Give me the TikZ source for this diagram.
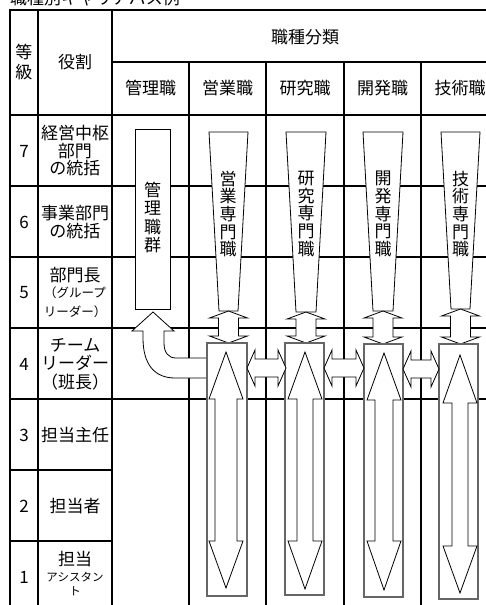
\documentclass[tikz,border=0pt]{standalone}
\usepackage{fontspec}
\setmainfont{Noto Sans CJK JP}
\newcommand\fs[2]{\fontsize{#1}{#2}\selectfont}
% vertical short double arrow: cx, top tip, bottom tip
\newcommand\vdarr[3]{\draw[shp] (#1,#2) -- ({#1+19},{#2+7}) -- ({#1+10},{#2+7}) -- ({#1+10},{#3-7}) -- ({#1+19},{#3-7}) -- (#1,#3) -- ({#1-19},{#3-7}) -- ({#1-10},{#3-7}) -- ({#1-10},{#2+7}) -- ({#1-19},{#2+7}) -- cycle;}
% big double arrow: cx, top tip, top base, bottom base, bottom tip, head half, shaft half
\newcommand\bigarr[7]{\draw[shp] (#1,#2) -- ({#1+#6},#3) -- ({#1+#7},#3) -- ({#1+#7},#4) -- ({#1+#6},#4) -- (#1,#5) -- ({#1-#6},#4) -- ({#1-#7},#4) -- ({#1-#7},#3) -- ({#1-#6},#3) -- cycle;}
% horizontal double arrow: left tip, right tip, y centre
\newcommand\hdarr[3]{\draw[shp] (#1,#3) -- ({#1+8},{#3-18}) -- ({#1+8},{#3-9}) -- ({#2-8},{#3-9}) -- ({#2-8},{#3-18}) -- (#2,#3) -- ({#2-8},{#3+18}) -- ({#2-8},{#3+9}) -- ({#1+8},{#3+9}) -- ({#1+8},{#3+18}) -- cycle;}
% trapezoid: left top, right top, top y, bottom y
\newcommand\trap[4]{\draw[shp] (#1,#3) -- (#2,#3) -- ({#2-10},#4) -- ({#1+10},#4) -- cycle;}
\begin{document}
\begin{tikzpicture}[x=1pt,y=-1pt,
  tline/.style={line width=2pt},
  shp/.style={draw=black,fill=white,line width=0.8pt,line join=miter},
  gbox/.style={draw=black!60,fill=white,line width=1.5pt},
  lbl/.style={font=\fs{17}{17.5},align=center,inner sep=0pt},
  vt/.style={font=\fs{17}{17.6},align=center,inner sep=0pt}]
\useasboundingbox (0,0) rectangle (486,605);
\clip (0,0) rectangle (486,605);
% title
\node[anchor=base west,inner sep=0pt,font=\fs{17}{18}] (title) at (10,5) {職種別キャリアパス例};
% table lines
\foreach \y in {10,115,186,257,328,399} \draw[tline] (9,\y) -- (500,\y);
\draw[tline] (112,62) -- (500,62);
\foreach \y in {470,541} \draw[tline] (9,\y) -- (112,\y);
\foreach \x in {10,38,112} \draw[tline] (\x,9) -- (\x,610);
\foreach \x in {189,266,344,421} \draw[tline] (\x,62) -- (\x,610);
% header texts
\node[lbl,font=\fs{17}{20}] (tou) at (24,62) {等\\級};
\node[lbl] (yaku) at (75,62) {役割};
\node[lbl] (bunrui) at (305,37) {職種分類};
\node[lbl] (c1) at (150.5,88) {管理職};
\node[lbl] (c2) at (227.5,88) {営業職};
\node[lbl] (c3) at (305,88) {研究職};
\node[lbl] (c4) at (382.5,88) {開発職};
\node[lbl] (c5) at (460,88) {技術職};
% grade numbers
\node[lbl] (g7) at (24,151) {7};
\node[lbl] (g6) at (24,222) {6};
\node[lbl] (g5) at (24,293) {5};
\node[lbl] (g4) at (24,364) {4};
\node[lbl] (g3) at (24,435) {3};
\node[lbl] (g2) at (24,506) {2};
\node[lbl] (g1) at (24,577) {1};
% role texts
\node[lbl] (r7) at (75,151) {経営中枢\\部門\\の統括};
\node[lbl] (r6) at (75,222) {事業部門\\の統括};
\node[lbl] (r5a) at (75,275) {部門長};
\node[lbl,font=\fs{12.5}{14}] (r5b) at (75,293) {（グループ};
\node[lbl,font=\fs{12.5}{14}] (r5c) at (75,312) {リーダー）};
\node[lbl,font=\fs{17}{18.5}] (r4) at (75,364) {チーム\\リーダー\\（班長）};
\node[lbl] (r3) at (75,435) {担当主任};
\node[lbl] (r2) at (75,506) {担当者};
\node[lbl] (r1a) at (75,559) {担当};
\node[lbl,font=\fs{11.5}{13}] (r1b) at (75,577) {アシスタン};
\node[lbl,font=\fs{11.5}{13}] (r1c) at (75,591) {ト};
% management group
\draw[shp] (135,129) rectangle (170,309);
\node[vt,font=\fs{17}{18.3}] (kanri) at (152.5,217.5) {管\\理\\職\\群};
% bent arrow to management
\draw[shp] (153,312) -- (174,331) -- (164,331) -- (164,343) .. controls (164,352) and (168,358) .. (176,358) -- (207,358) -- (207,378) -- (175,378) .. controls (155,378) and (143,365) .. (143,338) -- (143,331) -- (132,331) -- cycle;
% specialist trapezoids
\trap{209}{248}{132}{311}
\trap{286}{326}{132}{312}
\trap{363}{403}{132}{311}
\trap{441}{480}{132}{309}
\node[vt] (eigyo) at (228,214) {営\\業\\専\\門\\職};
\node[vt] (kenkyu) at (306,214) {研\\究\\専\\門\\職};
\node[vt] (kaihatsu) at (383,214) {開\\発\\専\\門\\職};
\node[vt] (gijutsu) at (460.5,214) {技\\術\\専\\門\\職};
% short vertical double arrows
\vdarr{228.5}{311}{343}
\vdarr{306}{312}{343}
\vdarr{383}{311}{344}
\vdarr{460.5}{309}{344}
% lower boxes
\draw[gbox] (207,343) rectangle (247,596);
\draw[gbox] (285,343) rectangle (324,595);
\draw[gbox] (364,344) rectangle (403,597);
\draw[gbox] (439,344) rectangle (478,599);
% up/down arrows inside boxes
\bigarr{226}{352}{399}{541}{588}{17}{11}
\bigarr{305}{352}{399}{541}{589}{17}{8}
\bigarr{384}{353}{400}{541}{590}{17}{9}
\bigarr{460}{355}{403}{546}{593}{17}{8}
% horizontal double arrows
\hdarr{247}{286}{368}
\hdarr{324}{364}{368}
\hdarr{403}{439}{369}
\end{tikzpicture}
\end{document}
